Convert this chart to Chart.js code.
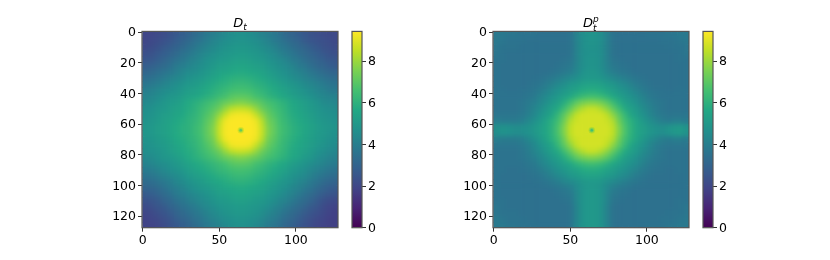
<!DOCTYPE html>
<html>
<head>
<meta charset="utf-8">
<script src="https://cdn.jsdelivr.net/npm/chart.js@4"></script>
<style>
body { margin: 0; background: #fff; width: 830px; height: 260px; overflow: hidden; position: relative; }
canvas { position: absolute; top: 0; }
.title { position: absolute; top: 15px; width: 60px; text-align: center; font: oblique 13px "DejaVu Sans"; color: #000; }
.title sub { font-size: 9px; vertical-align: baseline; position: relative; top: 3px; }
.stack { display: inline-block; position: relative; width: 6px; height: 10px; }
.stack span { position: absolute; left: 0; font-size: 9px; line-height: 9px; }
</style>
</head>
<body>
<canvas id="panelA" width="254" height="260" style="left:92px"></canvas>
<canvas id="barA" width="42" height="260" style="left:350px"></canvas>
<canvas id="panelB" width="254" height="260" style="left:443px"></canvas>
<canvas id="barB" width="42" height="260" style="left:701px"></canvas>
<div class="title" style="left:210px">D<sub>t</sub></div>
<div class="title" style="left:561px">D<span class="stack"><span style="top:-2px">p</span><span style="top:7px">t</span></span></div>
<script>
const imageTicksX = [0, 50, 100];
const imageTicksY = [0, 20, 40, 60, 80, 100, 120];
const colorbarTicks = [0, 2, 4, 6, 8];
const colorMax = 9.43;
const viridis = ['#440154', '#482475', '#414487', '#355f8d', '#2a788e', '#21918c', '#22a884', '#44bf70', '#7ad151', '#bddf26', '#fde725'];

// one row per 4 image px
const valuesA = [
[2.0,2.0,2.1,2.2,2.4,2.6,2.8,3.0,3.3,3.5,3.8,4.0,4.2,4.4,4.6,4.7,4.7,4.6,4.4,4.2,4.0,3.8,3.5,3.2,3.0,2.8,2.6,2.4,2.3,2.2,2.1,2.1],
[2.0,2.1,2.2,2.4,2.5,2.8,3.0,3.2,3.5,3.7,4.0,4.2,4.4,4.6,4.7,4.8,4.8,4.7,4.6,4.4,4.2,3.9,3.7,3.4,3.2,3.0,2.7,2.5,2.4,2.3,2.2,2.1],
[2.1,2.2,2.4,2.6,2.8,3.0,3.2,3.5,3.7,4.0,4.2,4.4,4.6,4.8,4.9,5.0,5.0,4.9,4.8,4.6,4.4,4.2,3.9,3.7,3.4,3.2,3.0,2.8,2.6,2.4,2.3,2.2],
[2.3,2.4,2.6,2.8,3.0,3.2,3.5,3.7,4.0,4.2,4.4,4.6,4.8,4.9,5.0,5.1,5.1,5.0,4.9,4.8,4.6,4.4,4.1,3.9,3.7,3.4,3.2,3.0,2.8,2.6,2.4,2.3],
[2.5,2.6,2.8,3.0,3.3,3.5,3.7,4.0,4.2,4.4,4.7,4.8,5.0,5.1,5.2,5.3,5.3,5.2,5.1,5.0,4.8,4.6,4.4,4.2,3.9,3.7,3.4,3.2,3.0,2.8,2.6,2.5],
[2.8,2.9,3.1,3.3,3.5,3.8,4.0,4.2,4.4,4.6,4.8,5.0,5.2,5.3,5.4,5.5,5.5,5.4,5.3,5.2,5.0,4.8,4.6,4.4,4.2,3.9,3.7,3.4,3.2,3.0,2.8,2.7],
[3.1,3.2,3.4,3.6,3.8,4.0,4.3,4.5,4.6,4.8,5.0,5.2,5.4,5.5,5.6,5.7,5.7,5.6,5.5,5.4,5.2,5.0,4.8,4.6,4.4,4.2,4.0,3.7,3.5,3.3,3.1,3.0],
[3.4,3.5,3.7,3.9,4.1,4.3,4.5,4.7,4.9,5.0,5.2,5.4,5.6,5.8,5.9,6.0,6.0,5.9,5.8,5.6,5.4,5.2,5.0,4.8,4.6,4.4,4.2,4.0,3.8,3.6,3.4,3.3],
[3.7,3.8,4.0,4.2,4.4,4.6,4.8,5.0,5.1,5.3,5.5,5.7,5.9,6.0,6.2,6.3,6.3,6.2,6.0,5.9,5.7,5.5,5.3,5.1,4.9,4.7,4.5,4.3,4.1,3.9,3.7,3.6],
[4.0,4.1,4.3,4.5,4.6,4.8,5.0,5.2,5.3,5.5,5.7,5.9,6.1,6.3,6.5,6.6,6.6,6.5,6.3,6.1,5.9,5.7,5.5,5.3,5.1,4.9,4.7,4.5,4.3,4.1,3.9,3.8],
[4.2,4.3,4.5,4.7,4.9,5.0,5.2,5.4,5.5,5.7,5.9,6.1,6.4,6.6,6.9,7.0,7.0,6.9,6.6,6.4,6.1,5.9,5.7,5.5,5.3,5.1,4.9,4.7,4.5,4.3,4.2,4.1],
[4.4,4.5,4.7,4.9,5.1,5.2,5.4,5.7,5.9,6.1,6.4,6.6,6.9,7.2,7.4,7.6,7.6,7.4,7.2,6.9,6.6,6.4,6.1,5.9,5.6,5.4,5.2,5.0,4.8,4.5,4.4,4.3],
[4.6,4.7,4.9,5.0,5.2,5.4,5.5,5.8,6.0,6.3,6.6,6.9,7.3,7.9,8.4,8.6,8.6,8.4,7.9,7.3,6.9,6.6,6.3,6.0,5.7,5.5,5.3,5.1,4.9,4.7,4.6,4.5],
[4.7,4.8,5.0,5.2,5.3,5.5,5.6,5.9,6.1,6.4,6.8,7.2,7.9,8.6,9.2,9.3,9.3,9.2,8.6,7.9,7.2,6.8,6.4,6.1,5.8,5.6,5.4,5.2,5.0,4.8,4.7,4.6],
[4.8,4.9,5.1,5.3,5.4,5.6,5.8,6.0,6.2,6.5,7.0,7.4,8.4,9.2,9.4,9.4,9.4,9.4,9.2,8.4,7.4,7.0,6.5,6.2,5.9,5.7,5.5,5.3,5.1,4.9,4.8,4.7],
[4.9,5.0,5.2,5.3,5.5,5.7,5.9,6.0,6.3,6.6,7.1,7.6,8.6,9.3,9.4,9.4,9.4,9.4,9.3,8.6,7.6,7.1,6.6,6.3,6.0,5.8,5.6,5.4,5.2,5.0,4.9,4.8],
[4.9,5.0,5.2,5.3,5.5,5.7,5.9,6.0,6.3,6.6,7.1,7.6,8.6,9.3,9.4,9.4,9.4,9.4,9.3,8.6,7.6,7.1,6.6,6.3,6.0,5.8,5.5,5.3,5.1,5.0,4.8,4.7],
[4.8,4.9,5.1,5.2,5.4,5.6,5.8,6.0,6.2,6.5,7.0,7.4,8.4,9.2,9.4,9.4,9.4,9.4,9.2,8.4,7.4,7.0,6.5,6.2,5.9,5.7,5.5,5.3,5.1,4.9,4.7,4.6],
[4.7,4.8,5.0,5.1,5.3,5.5,5.7,5.9,6.1,6.4,6.8,7.2,7.9,8.6,9.2,9.3,9.3,9.2,8.6,7.9,7.2,6.8,6.4,6.1,5.8,5.6,5.4,5.2,5.0,4.8,4.6,4.5],
[4.6,4.7,4.8,5.0,5.2,5.4,5.6,5.8,6.0,6.3,6.6,6.9,7.3,7.9,8.4,8.6,8.6,8.4,7.9,7.3,6.9,6.6,6.3,6.0,5.7,5.5,5.3,5.1,4.8,4.6,4.4,4.3],
[4.4,4.5,4.7,4.9,5.0,5.2,5.4,5.7,5.9,6.1,6.4,6.6,6.9,7.2,7.4,7.6,7.6,7.4,7.2,6.9,6.6,6.4,6.1,5.9,5.6,5.4,5.1,4.9,4.6,4.4,4.2,4.1],
[4.2,4.3,4.5,4.6,4.8,5.0,5.2,5.4,5.6,5.8,6.0,6.2,6.4,6.6,6.9,7.0,7.0,6.9,6.6,6.4,6.1,5.9,5.7,5.5,5.2,5.0,4.8,4.6,4.4,4.2,4.0,3.9],
[3.9,4.0,4.2,4.4,4.6,4.8,5.0,5.2,5.4,5.6,5.8,6.0,6.2,6.3,6.5,6.6,6.6,6.5,6.3,6.1,5.9,5.7,5.5,5.3,5.0,4.8,4.6,4.3,4.1,3.9,3.7,3.6],
[3.6,3.7,3.9,4.1,4.3,4.5,4.7,5.0,5.2,5.3,5.5,5.7,5.9,6.0,6.2,6.3,6.3,6.2,6.0,5.9,5.7,5.5,5.3,5.0,4.8,4.6,4.4,4.1,3.9,3.6,3.4,3.3],
[3.3,3.4,3.6,3.8,4.0,4.3,4.5,4.7,4.9,5.1,5.3,5.5,5.6,5.8,5.9,6.0,6.0,5.9,5.8,5.6,5.4,5.2,5.0,4.8,4.6,4.3,4.1,3.8,3.6,3.3,3.1,3.0],
[3.0,3.1,3.3,3.5,3.8,4.0,4.2,4.5,4.7,4.9,5.0,5.2,5.4,5.5,5.6,5.7,5.7,5.6,5.5,5.4,5.2,5.0,4.8,4.6,4.3,4.1,3.8,3.6,3.3,3.0,2.8,2.7],
[2.7,2.8,3.0,3.3,3.5,3.8,4.0,4.2,4.4,4.6,4.8,5.0,5.2,5.3,5.4,5.5,5.5,5.4,5.3,5.2,5.0,4.8,4.6,4.3,4.1,3.8,3.5,3.3,3.0,2.7,2.5,2.4],
[2.4,2.5,2.7,3.0,3.2,3.5,3.7,4.0,4.2,4.4,4.6,4.8,5.0,5.1,5.2,5.3,5.3,5.2,5.1,5.0,4.8,4.6,4.3,4.1,3.8,3.5,3.3,3.0,2.7,2.4,2.2,2.1],
[2.2,2.3,2.5,2.7,3.0,3.2,3.5,3.7,3.9,4.2,4.4,4.6,4.8,4.9,5.0,5.1,5.1,5.0,4.9,4.8,4.6,4.3,4.1,3.8,3.5,3.3,3.0,2.7,2.5,2.2,2.0,1.9],
[2.0,2.1,2.3,2.5,2.7,3.0,3.2,3.5,3.7,3.9,4.2,4.4,4.6,4.8,4.9,5.0,5.0,4.9,4.8,4.6,4.3,4.1,3.8,3.5,3.3,3.0,2.7,2.5,2.3,2.1,1.9,1.8],
[1.9,2.0,2.1,2.3,2.5,2.8,3.0,3.2,3.5,3.7,4.0,4.2,4.4,4.6,4.7,4.8,4.8,4.7,4.6,4.4,4.1,3.9,3.6,3.3,3.1,2.8,2.5,2.3,2.1,2.0,1.8,1.8],
[1.9,1.9,2.0,2.2,2.4,2.6,2.8,3.0,3.3,3.5,3.8,4.0,4.2,4.4,4.6,4.7,4.7,4.6,4.4,4.2,3.9,3.7,3.4,3.1,2.9,2.6,2.4,2.2,2.0,1.9,1.8,1.8]
];
const valuesB = [
[3.8,3.8,3.7,3.7,3.6,3.6,3.6,3.5,3.5,3.5,3.5,3.5,3.6,4.1,4.6,4.8,4.8,4.6,4.1,3.6,3.5,3.5,3.5,3.5,3.5,3.6,3.6,3.6,3.7,3.7,3.8,3.8],
[3.8,3.7,3.6,3.6,3.6,3.5,3.5,3.5,3.5,3.5,3.5,3.5,3.6,4.1,4.6,4.8,4.8,4.6,4.1,3.6,3.5,3.5,3.5,3.5,3.5,3.5,3.5,3.6,3.6,3.6,3.7,3.8],
[3.7,3.6,3.6,3.6,3.5,3.5,3.5,3.5,3.5,3.5,3.5,3.5,3.6,4.1,4.6,4.8,4.8,4.6,4.1,3.6,3.5,3.5,3.5,3.5,3.5,3.5,3.5,3.5,3.6,3.6,3.6,3.7],
[3.7,3.6,3.5,3.5,3.5,3.5,3.5,3.5,3.5,3.5,3.5,3.5,3.6,4.1,4.6,4.7,4.7,4.6,4.1,3.6,3.5,3.5,3.5,3.5,3.5,3.5,3.5,3.5,3.5,3.5,3.6,3.7],
[3.6,3.6,3.5,3.5,3.5,3.5,3.5,3.5,3.5,3.5,3.5,3.6,3.7,4.1,4.6,4.8,4.8,4.6,4.1,3.7,3.6,3.5,3.5,3.5,3.5,3.5,3.5,3.5,3.5,3.5,3.6,3.6],
[3.6,3.5,3.5,3.5,3.5,3.5,3.5,3.5,3.5,3.5,3.6,3.7,3.8,4.2,4.6,4.8,4.8,4.6,4.2,3.8,3.7,3.6,3.5,3.5,3.5,3.5,3.5,3.5,3.5,3.5,3.5,3.6],
[3.6,3.5,3.5,3.5,3.5,3.5,3.5,3.5,3.5,3.6,3.7,3.8,4.0,4.3,4.7,4.9,4.9,4.7,4.3,4.0,3.8,3.7,3.6,3.5,3.5,3.5,3.5,3.5,3.5,3.5,3.5,3.6],
[3.6,3.5,3.5,3.5,3.5,3.5,3.5,3.6,3.7,3.8,4.0,4.2,4.4,4.6,4.9,5.0,5.0,4.9,4.6,4.4,4.2,4.0,3.8,3.7,3.6,3.5,3.5,3.5,3.5,3.5,3.5,3.6],
[3.6,3.5,3.5,3.5,3.5,3.5,3.6,3.7,3.9,4.1,4.4,4.6,4.9,5.1,5.3,5.4,5.4,5.3,5.1,4.9,4.6,4.4,4.1,3.9,3.7,3.6,3.5,3.5,3.5,3.5,3.5,3.6],
[3.6,3.6,3.5,3.5,3.6,3.6,3.7,3.9,4.1,4.4,4.7,4.9,5.2,5.4,5.7,5.8,5.8,5.7,5.4,5.2,4.9,4.7,4.4,4.1,3.9,3.7,3.6,3.6,3.5,3.5,3.6,3.6],
[3.6,3.6,3.6,3.6,3.6,3.7,3.8,4.1,4.4,4.7,5.0,5.3,5.6,6.0,6.3,6.5,6.5,6.3,6.0,5.6,5.3,5.0,4.7,4.4,4.1,3.8,3.7,3.6,3.6,3.6,3.6,3.6],
[3.6,3.6,3.6,3.6,3.7,3.8,4.0,4.3,4.6,5.0,5.3,5.8,6.4,7.0,7.4,7.6,7.6,7.4,7.0,6.4,5.8,5.3,5.0,4.6,4.3,4.0,3.8,3.7,3.6,3.6,3.6,3.6],
[3.6,3.6,3.6,3.6,3.7,3.9,4.2,4.5,4.9,5.3,5.7,6.4,7.1,7.8,8.3,8.6,8.6,8.3,7.8,7.1,6.4,5.7,5.3,4.9,4.5,4.2,3.9,3.7,3.6,3.6,3.6,3.6],
[3.7,3.7,3.7,3.7,3.8,4.0,4.3,4.7,5.1,5.5,6.2,7.0,7.8,8.5,8.8,8.8,8.8,8.8,8.5,7.8,7.0,6.2,5.5,5.1,4.7,4.3,4.0,3.8,3.7,3.7,3.7,3.7],
[4.0,3.9,3.9,3.9,4.0,4.3,4.6,5.0,5.4,5.9,6.5,7.3,8.3,8.7,8.8,8.8,8.8,8.8,8.7,8.3,7.3,6.5,5.9,5.4,5.0,4.6,4.3,4.0,3.9,4.0,4.0,3.9],
[4.6,4.8,4.7,4.6,4.6,4.7,4.9,5.2,5.5,6.0,6.7,7.6,8.5,8.8,8.8,8.8,8.8,8.8,8.8,8.5,7.6,6.7,6.0,5.5,5.2,4.9,4.7,4.6,4.8,5.0,5.1,4.8],
[4.6,4.8,4.7,4.6,4.6,4.7,4.9,5.2,5.5,6.0,6.7,7.6,8.5,8.8,8.8,8.8,8.8,8.8,8.8,8.5,7.6,6.7,6.0,5.5,5.2,4.9,4.7,4.6,4.8,5.0,5.1,4.8],
[4.0,3.9,3.9,3.9,4.0,4.3,4.6,5.0,5.4,5.9,6.5,7.3,8.3,8.7,8.8,8.8,8.8,8.8,8.7,8.3,7.3,6.5,5.9,5.4,5.0,4.6,4.3,4.0,3.9,4.0,4.0,3.9],
[3.7,3.7,3.7,3.7,3.8,4.0,4.3,4.7,5.1,5.5,6.2,7.0,7.8,8.5,8.8,8.8,8.8,8.8,8.5,7.8,7.0,6.2,5.5,5.1,4.7,4.3,4.0,3.8,3.7,3.7,3.7,3.7],
[3.6,3.6,3.6,3.6,3.7,3.9,4.2,4.5,4.9,5.3,5.7,6.4,7.1,7.8,8.3,8.6,8.6,8.3,7.8,7.1,6.4,5.7,5.3,4.9,4.5,4.2,3.9,3.7,3.6,3.6,3.6,3.6],
[3.6,3.6,3.6,3.6,3.7,3.8,4.0,4.3,4.6,5.0,5.3,5.8,6.4,7.0,7.4,7.6,7.6,7.4,7.0,6.4,5.8,5.3,5.0,4.6,4.3,4.0,3.8,3.7,3.6,3.6,3.6,3.6],
[3.6,3.6,3.6,3.6,3.6,3.7,3.8,4.1,4.4,4.7,5.0,5.3,5.6,6.0,6.3,6.5,6.5,6.3,6.0,5.6,5.3,5.0,4.7,4.4,4.1,3.8,3.7,3.6,3.6,3.6,3.6,3.6],
[3.6,3.6,3.5,3.5,3.6,3.6,3.7,3.9,4.1,4.4,4.7,4.9,5.2,5.4,5.7,5.8,5.8,5.7,5.4,5.2,4.9,4.7,4.4,4.1,3.9,3.7,3.6,3.6,3.5,3.5,3.6,3.6],
[3.6,3.5,3.5,3.5,3.5,3.5,3.6,3.7,3.9,4.1,4.4,4.6,4.9,5.1,5.3,5.4,5.4,5.3,5.1,4.9,4.6,4.4,4.1,3.9,3.7,3.6,3.5,3.5,3.5,3.5,3.5,3.6],
[3.6,3.5,3.5,3.5,3.5,3.5,3.5,3.6,3.7,3.8,4.0,4.2,4.4,4.6,4.9,5.0,5.0,4.9,4.6,4.4,4.2,4.0,3.8,3.7,3.6,3.5,3.5,3.5,3.5,3.5,3.5,3.6],
[3.6,3.5,3.5,3.5,3.5,3.5,3.5,3.5,3.5,3.6,3.7,3.8,4.0,4.4,4.8,5.0,5.0,4.8,4.4,4.0,3.8,3.7,3.6,3.5,3.5,3.5,3.5,3.5,3.5,3.5,3.5,3.6],
[3.6,3.5,3.5,3.5,3.5,3.5,3.5,3.5,3.5,3.5,3.6,3.7,3.8,4.3,4.8,5.0,5.0,4.8,4.3,3.8,3.7,3.6,3.5,3.5,3.5,3.5,3.5,3.5,3.5,3.5,3.5,3.6],
[3.6,3.6,3.5,3.5,3.5,3.5,3.5,3.5,3.5,3.5,3.5,3.6,3.7,4.3,4.8,5.0,5.0,4.8,4.3,3.7,3.6,3.5,3.5,3.5,3.5,3.5,3.5,3.5,3.5,3.5,3.6,3.6],
[3.7,3.6,3.5,3.5,3.5,3.5,3.5,3.5,3.5,3.5,3.5,3.5,3.6,4.2,4.8,5.0,5.0,4.8,4.2,3.6,3.5,3.5,3.5,3.5,3.5,3.5,3.5,3.5,3.5,3.5,3.6,3.7],
[3.7,3.6,3.6,3.6,3.5,3.5,3.5,3.5,3.5,3.5,3.5,3.5,3.6,4.2,4.8,5.0,5.0,4.8,4.2,3.6,3.5,3.5,3.5,3.5,3.5,3.5,3.5,3.5,3.6,3.6,3.6,3.7],
[3.8,3.7,3.6,3.6,3.6,3.5,3.5,3.5,3.5,3.5,3.5,3.5,3.6,4.2,4.8,5.0,5.0,4.8,4.2,3.6,3.5,3.5,3.5,3.5,3.5,3.5,3.5,3.6,3.6,3.6,3.7,3.8],
[3.8,3.8,3.7,3.7,3.6,3.6,3.6,3.5,3.5,3.5,3.5,3.5,3.6,4.3,4.8,5.0,5.0,4.8,4.3,3.6,3.5,3.5,3.5,3.5,3.5,3.6,3.6,3.6,3.7,3.7,3.8,3.8]
];
// the little dip right in the middle of each image, outside in
const centerA = [8.9, 8.2, 7.2];
const centerB = [8.3, 7.6, 6.6];
const spotRadius = [3.2, 2.2, 1.2];

function colorFor(v) {
    const t = Math.max(0, Math.min(1, v / colorMax)) * (viridis.length - 1);
    const i = Math.min(Math.floor(t), viridis.length - 2);
    const a = parseInt(viridis[i].slice(1), 16);
    const b = parseInt(viridis[i + 1].slice(1), 16);
    const mix = shift => Math.round(((a >> shift) & 255) * (1 - t + i) + ((b >> shift) & 255) * (t - i));
    return `rgb(${mix(16)},${mix(8)},${mix(0)})`;
}

function drawFrame(chart) {
    const { left, top, width, height } = chart.chartArea;
    chart.ctx.save();
    chart.ctx.strokeStyle = '#555';
    chart.ctx.lineWidth = 1.2;
    chart.ctx.strokeRect(left, top, width, height);
    chart.ctx.restore();
}

// matplotlib smooths the image, so blur what the cells drew before the centre spot goes on
const imagePlugin = {
    id: 'imagePlugin',
    afterDatasetDraw(chart, args) {
        if (args.index !== 1) return;
        const { left, top, width, height } = chart.chartArea;
        const ctx = chart.ctx;
        ctx.save();
        ctx.beginPath();
        ctx.rect(left, top, width, height);
        ctx.clip();
        ctx.filter = 'blur(2.5px)';
        ctx.drawImage(chart.canvas, left, top, width, height, left, top, width, height);
        ctx.restore();
    },
    afterDraw: drawFrame
};

function axisCommon(ticks, labelOffset) {
    return {
        grid: { drawOnChartArea: false, drawTicks: true, tickLength: 4, tickColor: '#333', tickWidth: 1 },
        border: { display: false },
        afterBuildTicks: scale => { scale.ticks = ticks.map(value => ({ value })); },
        ticks: { color: '#000', padding: 2, labelOffset, autoSkip: false, maxRotation: 0, font: { family: 'DejaVu Sans', size: 12.5 }, callback: v => v }
    };
}

function drawPanel(id, rows, center) {
    const cells = [];
    rows.forEach((row, r) => row.forEach((v, c) => cells.push({ x: c * 4 + 2, y: r * 4 + 2, v })));
    new Chart(document.getElementById(id), {
        type: 'scatter',
        data: {
            datasets: [{
                data: center.map(v => ({ x: 64, y: 64, v })),
                pointStyle: 'circle',
                pointBorderWidth: 0,
                pointRadius: ctx => spotRadius[ctx.dataIndex],
                pointBackgroundColor: ctx => colorFor(ctx.raw.v)
            }, {
                data: cells,
                pointStyle: 'rect',
                clip: 0,
                pointBorderWidth: 0,
                pointRadius: ctx => ctx.chart.scales.x.width * 4 / 128 / Math.SQRT2 + 0.4,
                pointBackgroundColor: ctx => colorFor(ctx.raw.v)
            }]
        },
        options: {
            responsive: false,
            animation: false,
            events: [],
            layout: { padding: { top: 31.4, right: 8 } },
            plugins: { legend: { display: false }, tooltip: { enabled: false } },
            scales: {
                x: { type: 'linear', min: -0.5, max: 127.5, ...axisCommon(imageTicksX, 0), afterFit: s => { s.height = 32.3; } },
                y: { type: 'linear', min: -0.5, max: 127.5, reverse: true, ...axisCommon(imageTicksY, 1), afterFit: s => { s.width = 50; } }
            }
        },
        plugins: [imagePlugin]
    });
}

function drawColorbar(id) {
    new Chart(document.getElementById(id), {
        type: 'bar',
        data: {
            labels: [''],
            datasets: [{
                data: [[0, colorMax]],
                barPercentage: 1,
                categoryPercentage: 1,
                backgroundColor: ctx => {
                    const area = ctx.chart.chartArea;
                    if (!area) return viridis[5];
                    const g = ctx.chart.ctx.createLinearGradient(0, area.bottom, 0, area.top);
                    viridis.forEach((c, i) => g.addColorStop(i / (viridis.length - 1), c));
                    return g;
                }
            }]
        },
        options: {
            responsive: false,
            animation: false,
            events: [],
            layout: { padding: { top: 31.4, left: 2, bottom: 32.3 } },
            plugins: { legend: { display: false }, tooltip: { enabled: false } },
            scales: {
                x: { display: false },
                y: { position: 'right', min: 0, max: colorMax, ...axisCommon(colorbarTicks, 1), afterFit: s => { s.width = 30; } }
            }
        },
        plugins: [{ id: 'barFrame', afterDraw: drawFrame }]
    });
}

drawPanel('panelA', valuesA, centerA);
drawColorbar('barA');
drawPanel('panelB', valuesB, centerB);
drawColorbar('barB');
</script>
</body>
</html>
